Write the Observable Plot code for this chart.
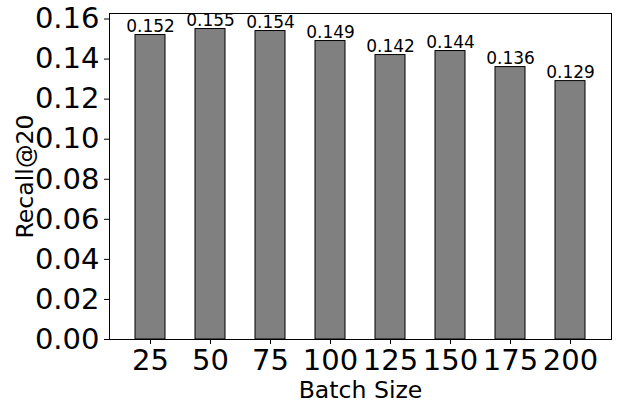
<!DOCTYPE html>
<html><head><meta charset="utf-8">
<script src="https://cdn.jsdelivr.net/npm/d3@7"></script>
<script src="https://cdn.jsdelivr.net/npm/@observablehq/plot@0.6"></script>
<style>body{margin:0;background:#fff} svg{display:block}</style>
</head><body><div id="chart"></div>
<script>
const batchSizes = ["25","50","75","100","125","150","175","200"];
const recall = [0.152,0.155,0.154,0.149,0.142,0.144,0.136,0.129];
const yTicks = [0,0.02,0.04,0.06,0.08,0.10,0.12,0.14,0.16];
const xLabel = "Batch Size";
const yLabel = "Recall@20";
const data = batchSizes.map((b,i)=>({batch:b, recall:recall[i]}));
const font = "DejaVu Sans";
const chart = Plot.plot({
  width:618, height:410, marginLeft:109, marginRight:7, marginTop:13, marginBottom:71,
  style:{fontFamily:font, background:"#fff", color:"#000"},
  x:{type:"band", domain:batchSizes, paddingInner:0.5, paddingOuter:0.375},
  y:{domain:[0, 0.16275]},
  marks:[
    Plot.barY(data,{x:"batch", y:"recall", fill:"#808080", stroke:"#000", strokeWidth:1}),
    Plot.frame({stroke:"#000", strokeWidth:1}),
    Plot.axisY({ticks:yTicks, tickFormat:d3.format(".2f"), tickSize:5, tickPadding:5, fontSize:29, label:null}),
    Plot.axisX({tickSize:5, tickPadding:5, fontSize:29, label:null}),
    Plot.text(data, {x:"batch", y:"recall", text:d=>d3.format(".3f")(d.recall), lineAnchor:"bottom", dy:-3.5, fontSize:17}),
    Plot.text([xLabel], {frameAnchor:"bottom", text:d=>d, textAnchor:"middle", lineAnchor:"bottom", dy:58, fontSize:23.6}),
    Plot.text([yLabel], {frameAnchor:"left", text:d=>d, textAnchor:"middle", rotate:-90, lineAnchor:"bottom", dx:-76.5, fontSize:23.6})
  ]
});
document.getElementById("chart").append(chart);
</script>
</body></html>
